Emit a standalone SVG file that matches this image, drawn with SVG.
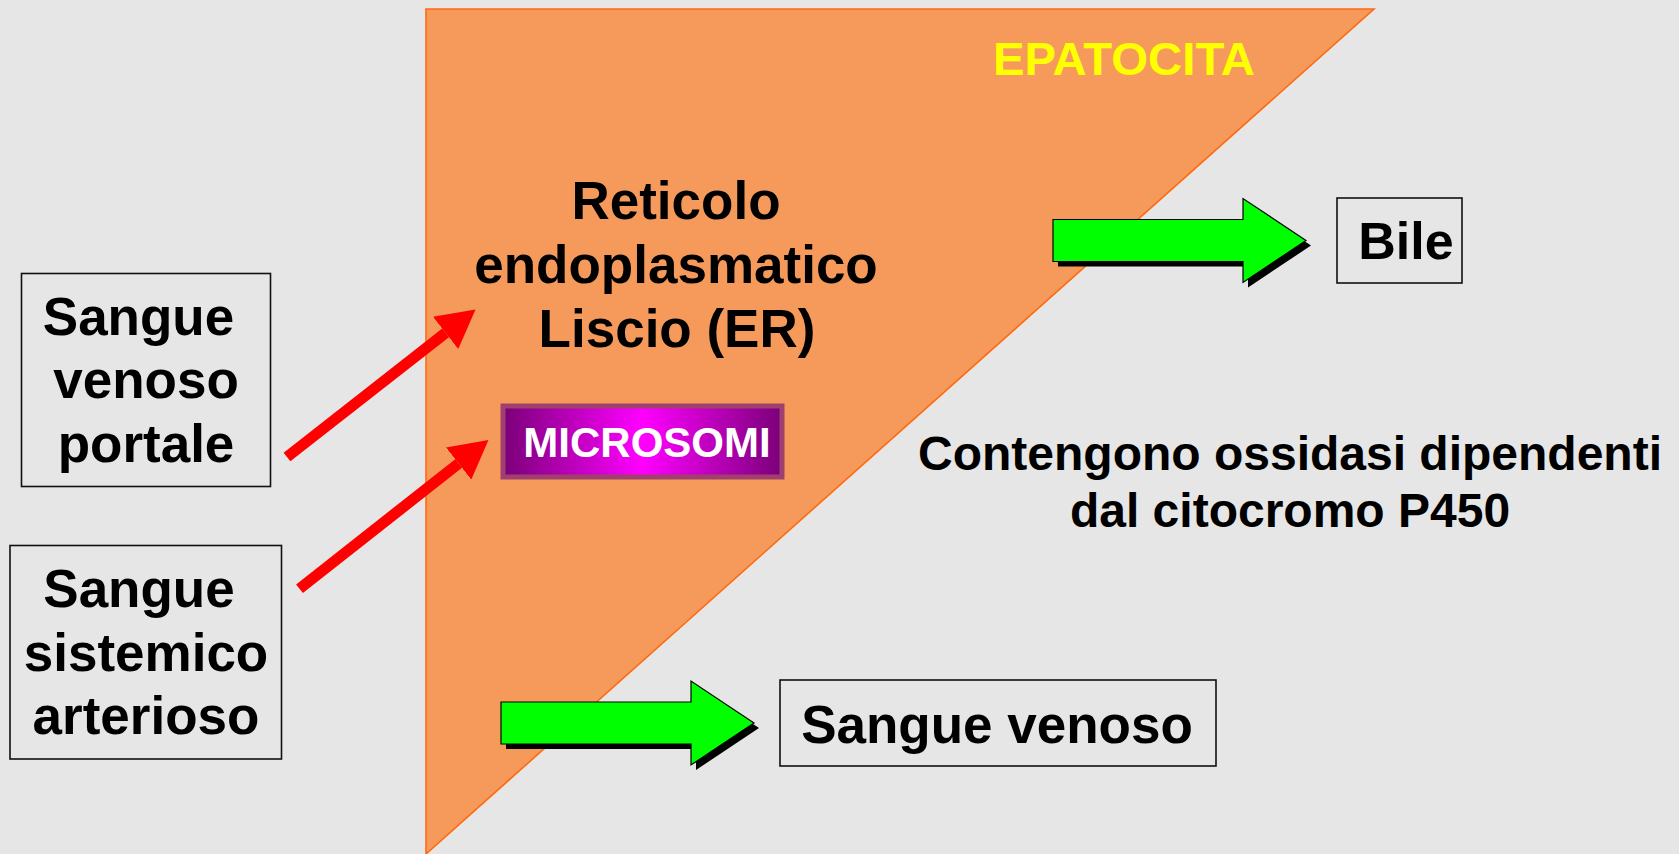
<svg xmlns="http://www.w3.org/2000/svg" width="1679" height="854" viewBox="0 0 1679 854">
  <style>
    .lbl { font-family: "Liberation Sans", Arial, sans-serif; font-weight: bold; fill: #000; text-anchor: middle; }
    .box { fill: none; stroke: #111; stroke-width: 1.6; }
    .red { stroke: #FF0000; stroke-width: 11; fill: none; marker-end: url(#redHead); }
  </style>
  <defs>
    <marker id="redHead" markerUnits="userSpaceOnUse" markerWidth="38" markerHeight="41" viewBox="0 0 38 41" refX="0" refY="20.5" orient="auto">
      <path d="M0,0 L38,20.5 L0,41 Z" fill="#FF0000"/>
    </marker>
    <path id="greenArrow" d="M0,-21 H190 V-42 L253,0 L190,42 V21 H0 Z"/>
    <linearGradient id="microGrad" x1="0" y1="0" x2="1" y2="0">
      <stop offset="0" stop-color="#7A0078"/>
      <stop offset="0.5" stop-color="#FF00FF"/>
      <stop offset="1" stop-color="#7A0078"/>
    </linearGradient>
  </defs>

  <rect x="0" y="0" width="1679" height="854" fill="#E6E6E6"/>

  <g id="epatocita">
    <polygon points="426,9 1374,9 426,854" fill="#F69A5C" stroke="#FF6A10" stroke-width="1.6"/>
    <text x="1124" y="75" class="lbl" style="fill:#FFFF00" font-size="47" textLength="262" lengthAdjust="spacingAndGlyphs">EPATOCITA</text>
  </g>

  <g id="reticolo">
    <text class="lbl" font-size="53" x="676" y="219">Reticolo</text>
    <text class="lbl" font-size="53" x="676" y="283">endoplasmatico</text>
    <text class="lbl" font-size="53" x="677" y="347">Liscio (ER)</text>
  </g>

  <g id="microsomi">
    <rect x="503" y="406" width="279" height="71" fill="url(#microGrad)" stroke="#A0406E" stroke-width="5"/>
    <text class="lbl" font-size="42" x="647" y="456.5" style="fill:#FFFFFF">MICROSOMI</text>
  </g>

  <g id="sangue-venoso-portale">
    <rect class="box" x="21.5" y="273.5" width="249" height="213"/>
    <text class="lbl" font-size="53" x="138.5" y="335">Sangue</text>
    <text class="lbl" font-size="53" x="146" y="398">venoso</text>
    <text class="lbl" font-size="53" x="146" y="462">portale</text>
  </g>

  <g id="sangue-sistemico-arterioso">
    <rect class="box" x="10" y="545.5" width="271.5" height="213.5"/>
    <text class="lbl" font-size="53" x="139" y="607">Sangue</text>
    <text class="lbl" font-size="53" x="146" y="671">sistemico</text>
    <text class="lbl" font-size="53" x="146" y="734">arterioso</text>
  </g>

  <g id="bile">
    <rect class="box" x="1337" y="198" width="125" height="85"/>
    <text class="lbl" font-size="52" x="1406" y="259">Bile</text>
  </g>

  <g id="sangue-venoso">
    <rect class="box" x="780" y="680" width="436" height="86"/>
    <text class="lbl" font-size="53" x="997" y="743">Sangue venoso</text>
  </g>

  <g id="nota-p450">
    <text class="lbl" font-size="48" x="1290" y="470">Contengono ossidasi dipendenti</text>
    <text class="lbl" font-size="48" x="1290" y="527">dal citocromo P450</text>
  </g>

  <g id="connectors">
    <line class="red" x1="287" y1="457" x2="445.6" y2="332.9"/>
    <line class="red" x1="299.5" y1="588.7" x2="458.6" y2="463.5"/>
    <g transform="translate(1053,240.5)">
      <use href="#greenArrow" transform="translate(5,5)" fill="#000"/>
      <use href="#greenArrow" fill="#00FF00" stroke="#000" stroke-width="1.2"/>
    </g>
    <g transform="translate(501,723)">
      <use href="#greenArrow" transform="translate(5,5)" fill="#000"/>
      <use href="#greenArrow" fill="#00FF00" stroke="#000" stroke-width="1.2"/>
    </g>
  </g>
</svg>
